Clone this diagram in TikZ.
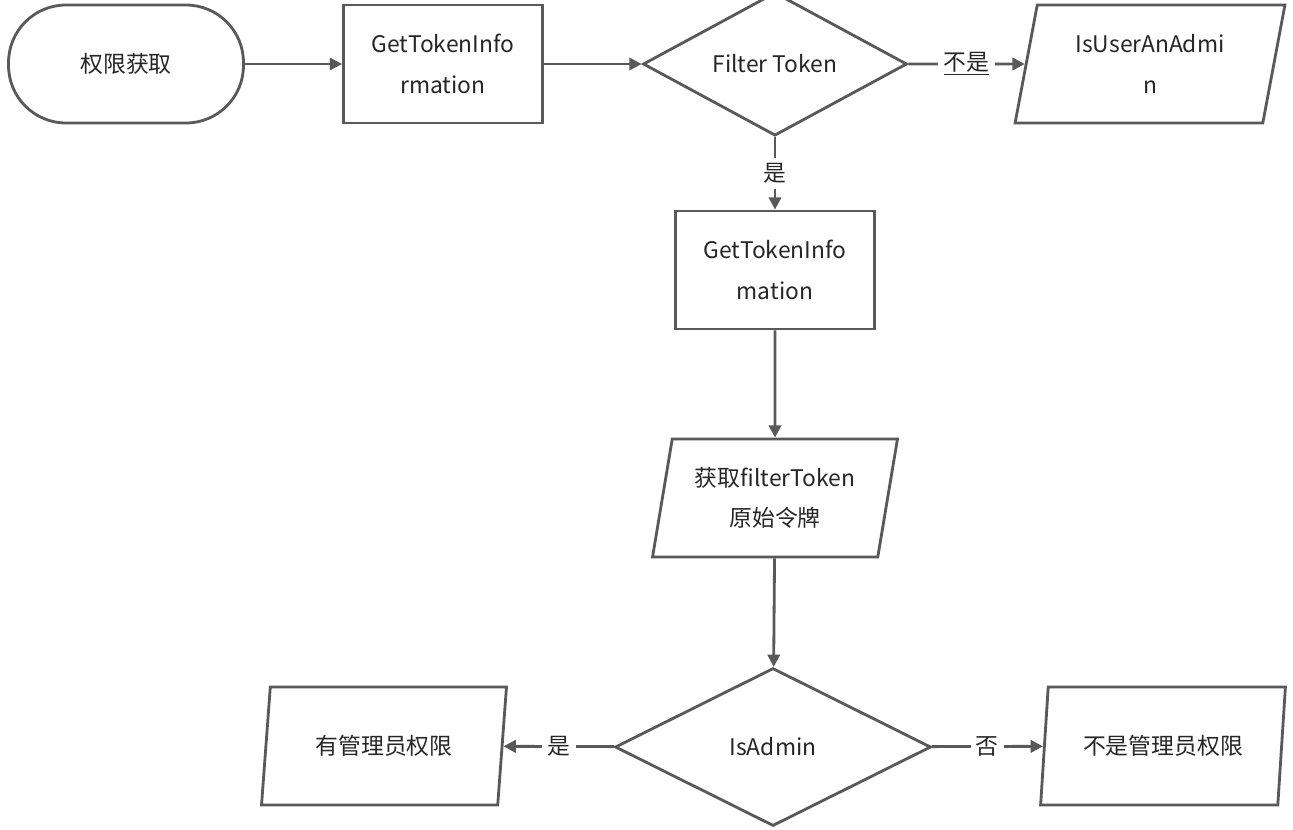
\documentclass[tikz,border=0pt]{standalone}
\usepackage{fontspec}
\setmainfont{Noto Sans CJK SC}
\usetikzlibrary{shapes.geometric,arrows.meta,positioning}
\definecolor{lineGray}{HTML}{595959}
\tikzset{
	base/.style={draw=lineGray, line width=1.6pt, font=\fontsize{13pt}{23pt}\selectfont, text=black!85, align=center, inner sep=0pt},
	terminal/.style={base, rounded corners=1.15cm, minimum width=4.7cm, minimum height=2.36cm},
	process/.style={base, rectangle, minimum width=3.98cm, minimum height=2.36cm},
	decision/.style={base, diamond},
	io/.style={base, trapezium, trapezium left angle=76, trapezium right angle=104, trapezium stretches=true, minimum width=4.9cm, minimum height=2.36cm},
	flow/.style={draw=lineGray, line width=1.6pt, -{Triangle[length=7pt,width=7pt]}},
	lbl/.style={fill=white, font=\fontsize{13pt}{16pt}\selectfont, text=black!85, inner sep=3pt}
}
\begin{document}
\begin{tikzpicture}[x=0.02cm, y=-0.02cm]
	\useasboundingbox (0,0) rectangle (1293,829);
	% top row
	\node[terminal] (start) at (126,64) {权限获取};
	\node[process] (getInfoA) at (443,64) {GetTokenInfo\\rmation};
	\node[decision, minimum width=5.28cm, minimum height=2.36cm] (filter) at (775,64) {Filter Token};
	\node[io, minimum width=5.4cm] (isUser) at (1150,64) {IsUserAnAdmi\\n};
	% middle column
	\node[process] (getInfoB) at (775,270) {GetTokenInfo\\mation};
	\node[io] (origin) at (775,498) {获取filterToken\\原始令牌};
	\node[decision, minimum width=6.32cm, minimum height=3.16cm] (isAdmin) at (773,747) {IsAdmin};
	% bottom row
	\node[io] (admin) at (384,746) {有管理员权限};
	\node[io] (notAdmin) at (1163,746) {不是管理员权限};
	% connectors
	\draw[flow] (start) -- (getInfoA);
	\draw[flow] (getInfoA) -- (filter);
	\draw[flow] (filter) -- node[lbl] {\underline{\textit{不是}}} (isUser);
	\draw[flow] (filter) -- node[lbl] {是} (getInfoB);
	\draw[flow] (getInfoB) -- (origin);
	\draw[flow] (origin) -- (isAdmin);
	\draw[flow] (isAdmin) -- node[lbl] {是} (admin);
	\draw[flow] (isAdmin) -- node[lbl] {否} (notAdmin);
\end{tikzpicture}
\end{document}
